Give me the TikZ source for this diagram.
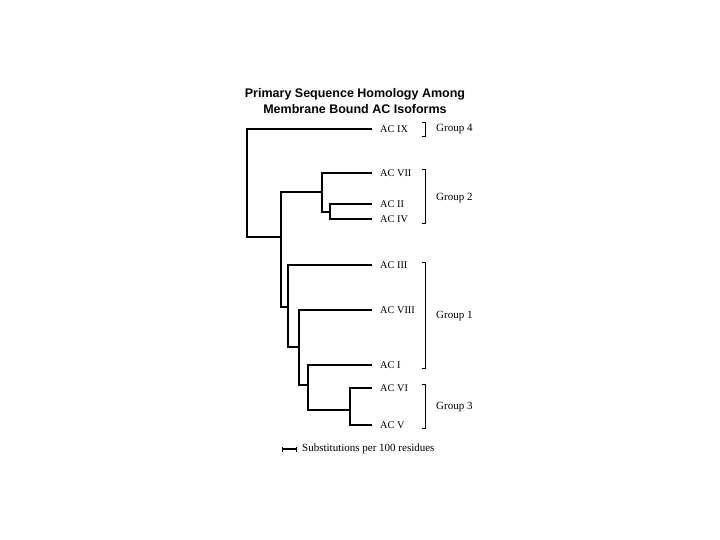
\documentclass[tikz,border=0pt]{standalone}
\usepackage{fontspec}
\setmainfont{Liberation Serif}
\newfontfamily\titlefont{Liberation Sans}
\usetikzlibrary{arrows.meta}
\begin{document}
\begin{tikzpicture}[x=1pt,y=-1pt,
  thk/.style={line width=2.2pt, line join=miter},
  thn/.style={line width=1.2pt, line join=miter},
  leaf/.style={anchor=west, inner xsep=8pt, inner ysep=0pt, font=\fontsize{10.3}{11}\selectfont},
  grp/.style={anchor=west, inner sep=0pt, font=\fontsize{11}{12}\selectfont},
  brk/.style={line width=0.9pt}]
\useasboundingbox (0,0) rectangle (720,540);
\fill[white] (0,0) rectangle (720,540);
% title
\node[align=center, font=\titlefont\bfseries\fontsize{12.5}{16}\selectfont] (title) at (355,101)
  {Primary Sequence Homology Among\\Membrane Bound AC Isoforms};
% leaves
\node[leaf] (IX)   at (372,129) {AC IX};
\node[leaf] (VII)  at (372,173) {AC VII};
\node[leaf] (II)   at (372,204) {AC II};
\node[leaf] (IV)   at (372,219) {AC IV};
\node[leaf] (III)  at (372,265) {AC III};
\node[leaf] (VIII) at (372,310) {AC VIII};
\node[leaf] (I)    at (372,365) {AC I};
\node[leaf] (VI)   at (372,388) {AC VI};
\node[leaf] (V)    at (372,425) {AC V};
% internal nodes
\coordinate (n0) at (247,183);
\coordinate (n1) at (281,237);
\coordinate (n2) at (322,192);
\coordinate (n3) at (330,212);
\coordinate (n4) at (288,307);
\coordinate (n5) at (299,347);
\coordinate (n6) at (308,385);
\coordinate (n7) at (350,410);
% branches
\draw[thk] (n0) |- (IX.west);
\draw[thk] (n0) |- (n1);
\draw[thk] (n1) |- (n2);
\draw[thk] (n1) |- (n4);
\draw[thk] (n2) |- (VII.west);
\draw[thk] (n2) |- (n3);
\draw[thn] (n3) |- (II.west);
\draw[thn] (n3) |- (IV.west);
\draw[thn] (n4) |- (III.west);
\draw[thk] (n4) |- (n5);
\draw[thk] (n5) |- (VIII.west);
\draw[thk] (n5) |- (n6);
\draw[thk] (n6) |- (I.west);
\draw[thk] (n6) |- (n7);
\draw[thk] (n7) |- (VI.west);
\draw[thk] (n7) |- (V.west);
% groups
\node[grp] (g4) at (436,129) {Group 4};
\node[grp] (g2) at (436,198) {Group 2};
\node[grp] (g1) at (436,316) {Group 1};
\node[grp] (g3) at (436,407) {Group 3};
\draw[brk] (422,122) -- (425,122) -- (425,136) -- (422,136);
\draw[brk] (422,169) -- (425,169) -- (425,223) -- (422,223);
\draw[brk] (422,262) -- (425,262) -- (425,368) -- (422,368);
\draw[brk] (422,384) -- (425,384) -- (425,428) -- (422,428);
% scale bar
\coordinate (s0) at (282,449);
\coordinate (s1) at (297,449);
\draw[line width=1.8pt, {Bar[width=5pt,line width=1.2pt]}-{Bar[width=5pt,line width=1.2pt]}] (s0) -- (s1);
\node[grp] (scale) at (302,449) {Substitutions per 100 residues};
\end{tikzpicture}
\end{document}
